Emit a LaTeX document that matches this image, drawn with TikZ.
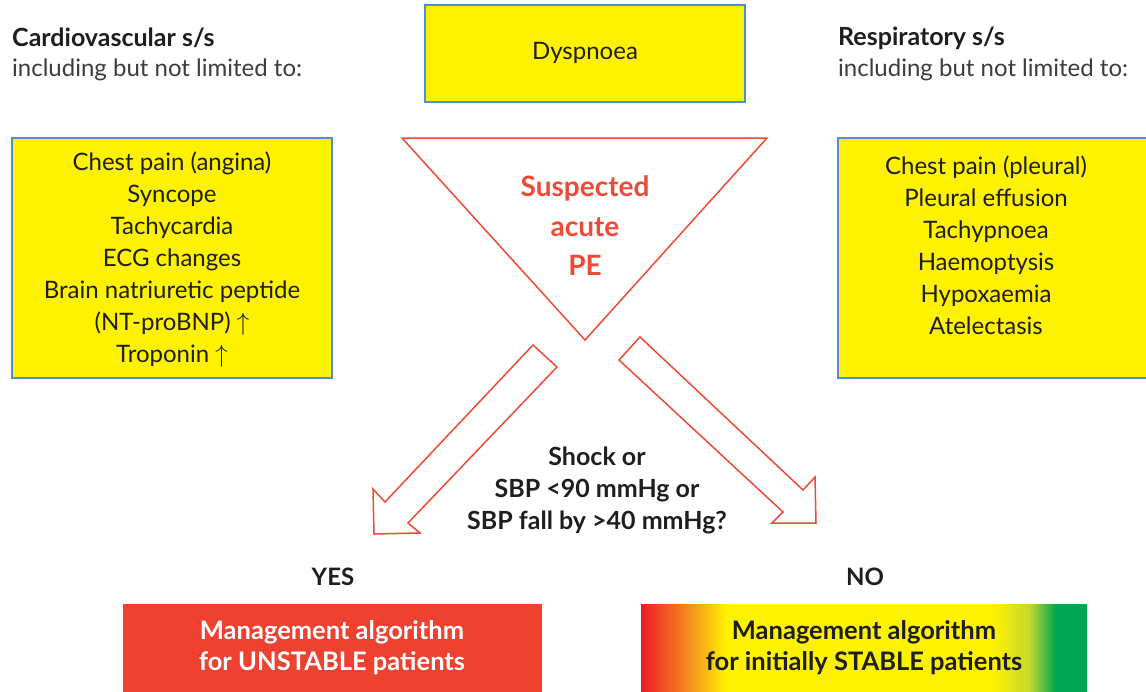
\documentclass[tikz,border=0pt]{standalone}
\usepackage{fontspec}
\setmainfont{Lato}
\definecolor{boxyellow}{HTML}{FFF200}
\definecolor{boxblue}{HTML}{4F8FD0}
\definecolor{pered}{HTML}{EE4A36}
\definecolor{unstable}{HTML}{EE4130}
\definecolor{txt}{HTML}{1E1E1E}
\definecolor{subtxt}{HTML}{3C3C3C}
\definecolor{gRed}{HTML}{ED1C24}
\definecolor{gOrange}{HTML}{F4901E}
\definecolor{gYellow}{HTML}{FFF200}
\definecolor{gLime}{HTML}{C4D82E}
\definecolor{gGreen}{HTML}{00A651}
% red -> yellow -> green band; the middle 50bp span covers the box width
\pgfdeclarehorizontalshading{stablegrad}{100bp}{%
  color(0bp)=(gRed); color(25bp)=(gRed); color(30.5bp)=(gOrange);
  color(34.5bp)=(gYellow); color(64.5bp)=(gYellow); color(68.5bp)=(gLime);
  color(71.5bp)=(gGreen); color(75bp)=(gGreen); color(100bp)=(gGreen)}
\tikzset{
  ybox/.style={draw=boxblue, line width=1.2pt, fill=boxyellow},
  body/.style={font=\fontsize{24}{32}\selectfont, text=txt, align=center},
  heading/.style={font=\fontsize{25}{30}\selectfont\bfseries, text=txt, anchor=west, inner sep=0pt},
  subhead/.style={font=\fontsize{24}{30}\selectfont, text=subtxt, anchor=west, inner sep=0pt},
  redline/.style={draw=pered, line width=1.5pt, line join=miter},
  question/.style={font=\fontsize{25}{32}\selectfont\bfseries, text=txt, align=center},
  algo/.style={font=\fontsize{25.5}{31}\selectfont\bfseries, align=center},
  answer/.style={font=\fontsize{24}{30}\selectfont\bfseries, text=txt},
}
\begin{document}
\begin{tikzpicture}[x=1pt, y=-1pt]
\useasboundingbox (0,0) rectangle (1146,691);
\clip (0,0) rectangle (1146,691);

% top boxes and headings
\draw[ybox] (425,5) rectangle (745,102);
\node[body] (dysp) at (585,53) {Dyspnoea};

\node[heading] (cvhead) at (12,38) {Cardiovascular s/s};
\node[subhead] (cvsub) at (12,70) {including but not limited to:};
\node[heading] (rshead) at (838,38) {Respiratory s/s};
\node[subhead] (rssub) at (838,70) {including but not limited to:};

% sign lists
\draw[ybox] (12,138) rectangle (332,378);
\node[body] (cvlist) at (172,260) {Chest pain (angina)\\Syncope\\Tachycardia\\ECG changes\\Brain natriuretic peptide\\(NT-proBNP) $\uparrow$\\Troponin $\uparrow$};
\draw[ybox] (838,138) rectangle (1160,378);
\node[body] (rslist) at (986,245) {Chest pain (pleural)\\Pleural effusion\\Tachypnoea\\Haemoptysis\\Hypoxaemia\\Atelectasis};

% suspected PE triangle
\draw[redline] (402,138) -- (767,138) -- (585,340) -- cycle;
\node[font=\fontsize{28}{39.5}\selectfont\bfseries, text=pered, align=center] (pe) at (585,226) {Suspected\\acute\\PE};

% hollow decision arrows
\draw[redline] (533,345) -- (385,502) -- (373,489) -- (374,534) -- (420,533) -- (408,523) -- (557,367) -- cycle;
\draw[redline] (640,337) -- (803,490) -- (815,477) -- (816,523) -- (772,523) -- (783,512) -- (619,360) -- cycle;

\node[question] (q) at (597,490) {Shock or\\SBP <90 mmHg or\\SBP fall by >40 mmHg?};

\node[answer] (yes) at (333,577) {YES};
\node[answer] (no) at (865,577) {NO};

% management boxes
\fill[unstable] (123,604) rectangle (542,700);
\node[algo, text=white] (unst) at (332,648) {Management algorithm\\for UNSTABLE patients};
\shade[shading=stablegrad] (641,604) rectangle (1087,700);
\node[algo, text=txt] (stab) at (864,648) {Management algorithm\\for initially STABLE patients};
\end{tikzpicture}
\end{document}
